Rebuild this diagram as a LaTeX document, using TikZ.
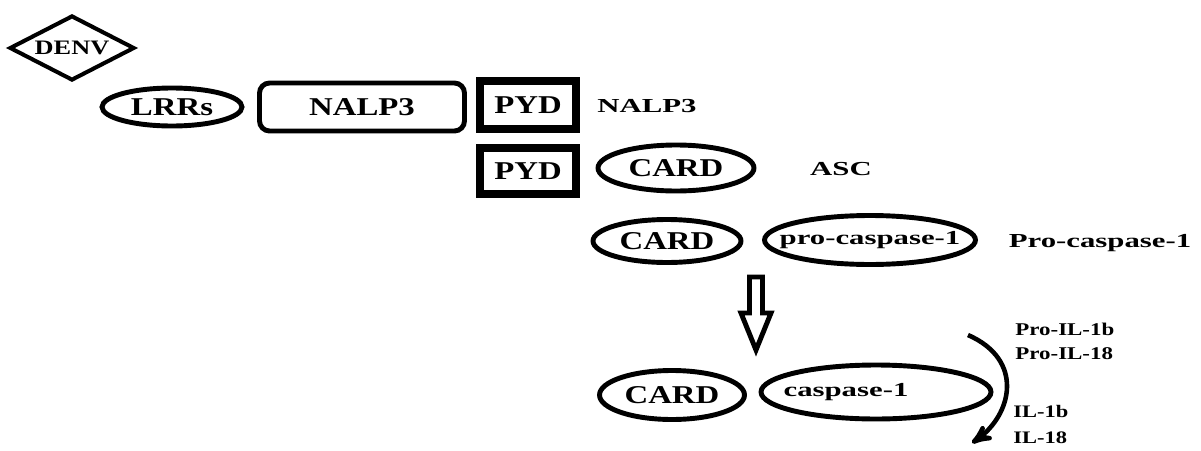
\documentclass[tikz,border=0pt]{standalone}
\usepackage{fontspec}
\setmainfont{Liberation Serif}[FakeStretch=1.28]
\newfontfamily\widefont{Liberation Serif}[FakeStretch=1.55]
\usetikzlibrary{arrows}
\usetikzlibrary{shapes.geometric}

\begin{document}
\begin{tikzpicture}[x=0.02cm, y=-0.02cm,
 bigtxt/.style={font=\fontsize{14.6}{16}\selectfont\bfseries},
 widetxt/.style={font=\widefont\fontsize{11.3}{13}\selectfont\bfseries},
 oval/.style={ellipse, draw, line width=2.8pt, inner sep=0, bigtxt},
 pydbox/.style={draw, line width=4pt, inner sep=0, minimum width=1.92cm, bigtxt},
 sidelab/.style={inner sep=0, widetxt}]
\useasboundingbox (0,0) rectangle (1201,450);
% NALP3 row
\node[diamond, draw, line width=2.3pt, aspect=2, inner sep=0, minimum width=2.5cm, minimum height=1.3cm, font=\fontsize{11.7}{13}\selectfont\bfseries] (denv) at (72,48) {DENV};
\node[oval, minimum width=2.8cm, minimum height=0.76cm] (lrrs) at (172,107) {\makebox[0pt]{LRRs}};
\node[draw, rounded corners=0.2cm, line width=2.8pt, minimum width=4.1cm, minimum height=0.96cm, bigtxt] (nalp) at (362,107) {NALP3\hspace{0.84cm}};
\node[pydbox, minimum height=0.96cm] (pyda) at (528,105) {PYD};
\node[sidelab] (nalplab) at (647,106) {NALP3};
% ASC row
\node[pydbox, minimum height=0.92cm] (pydb) at (528,171) {PYD};
\node[oval, minimum width=3.12cm, minimum height=0.92cm] (carda) at (676,168) {\makebox[0pt]{CARD}};
\node[sidelab] (asclab) at (841,169) {ASC};
% pro-caspase-1 row
\node[oval, minimum width=2.96cm, minimum height=0.86cm] (cardb) at (667,241) {\makebox[0pt]{CARD}};
\node[oval, widetxt, minimum width=4.22cm, minimum height=0.98cm] (procasp) at (870,240) {\makebox[0pt]{pro-caspase-1}};
\node[sidelab] (proclab) at (1100,243) {Pro-caspase-1};
% hollow arrow
\coordinate (down) at (756,277);
\draw[line width=2.8pt, line join=miter] (down) +(-6.5,0) -- +(-6.5,36) -- +(-15,36) -- +(0,73) -- +(15,36) -- +(6.5,36) -- +(6.5,0) -- cycle;
% caspase-1 row
\node[oval, minimum width=2.9cm, minimum height=0.98cm] (cardc) at (672,395) {\makebox[0pt]{CARD}};
\node[oval, widetxt, minimum width=4.6cm, minimum height=1.08cm] (casp) at (876,392) {\makebox[0pt]{caspase-1\hspace{1.2cm}}};
% cleavage
\node[anchor=north west, align=left, inner sep=0, font=\fontsize{10.2}{13.5}\selectfont\bfseries] (proil) at (1015,323) {Pro-IL-1b\\Pro-IL-18};
\node[anchor=north west, align=left, inner sep=0, font=\fontsize{10}{14.5}\selectfont\bfseries] (il) at (1013,405) {IL-1b\\IL-18};
\coordinate (cut) at (968,335);
\coordinate (cutend) at (972,443);
\draw[line width=2.6pt, ->, >=stealth'] (cut) .. controls (1025,360) and (1012,415) .. (cutend);
\end{tikzpicture}
\end{document}
